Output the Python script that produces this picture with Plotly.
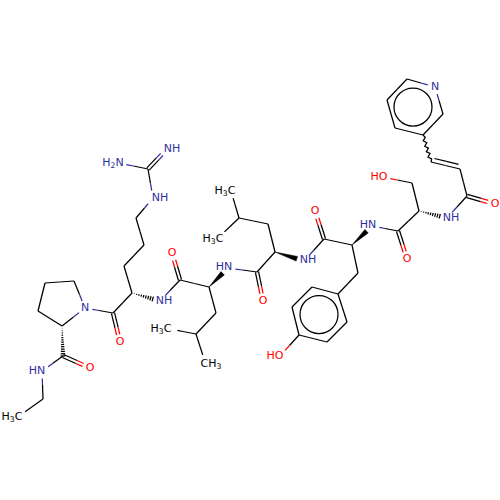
import math
import plotly.graph_objects as go

## Atoms, in picture pixels (y downwards)
atom_ids = ['me1', 'ch2e', 'n1', 'c1', 'o1', 'pa', 'pb', 'pg', 'pd', 'pn', 'c2', 'o2', 'ra', 'rb', 'rg', 'rd', 'n2', 'cz', 'n3', 'n4',
            'n5', 'c3', 'o3', 'la', 'lb', 'lg', 'me2', 'me3', 'n6', 'c4', 'o4', 'ma', 'mb', 'mg', 'me4', 'me5', 'n7', 'c5', 'o5',
            'ya', 'yb', 'y1', 'y2', 'y3', 'y4', 'y5', 'y6', 'oh', 'n8', 'c6', 'o6', 'sa', 'sb', 'so', 'n9', 'c7', 'o7', 'v1', 'v2',
            'q1', 'q2', 'qn', 'q4', 'q5', 'q6']
atom_x = [19, 43, 42, 63, 90, 62, 38, 45, 74, 85, 113, 120, 132, 124, 144, 136, 153, 148, 167, 119,
          160, 180, 172, 209, 216, 196, 170, 205, 228, 257, 263, 275, 268, 239, 231, 219, 304, 324, 315,
          352, 358, 338, 312, 292, 299, 327, 347, 280, 372, 398, 407, 419, 412, 383, 447, 467, 495, 460, 431,
          423, 443, 435, 407, 387, 395]
atom_y = [416, 399, 371, 356, 368, 326, 311, 283, 281, 308, 313, 342, 293, 266, 245, 218, 198, 169, 149, 163,
          301, 280, 253, 287, 313, 334, 329, 362, 268, 272, 301, 252, 224, 218, 191, 237, 261, 239, 211,
          245, 273, 294, 287, 307, 335, 342, 322, 356, 226, 231, 259, 211, 183, 177, 218, 196, 204, 169, 162,
          135, 114, 87, 79, 100, 128]

## Bonds: s single, d double, a alkene, w wedge, h hash, z wavy
bond_from = ['me1', 'ch2e', 'n1', 'c1', 'pa', 'pa', 'pb', 'pg', 'pd', 'pn', 'pn', 'c2', 'c2', 'ra', 'ra', 'rb', 'rg', 'rd', 'n2', 'cz', 'cz',
             'n5', 'c3', 'c3', 'la', 'la', 'lb', 'lg', 'lg',
             'n6', 'c4', 'c4', 'ma', 'ma', 'mb', 'mg', 'mg',
             'n7', 'c5', 'c5', 'ya', 'ya', 'yb', 'y1', 'y2', 'y3', 'y4', 'y5', 'y6', 'y4',
             'n8', 'c6', 'c6', 'sa', 'sa', 'sb', 'n9', 'c7', 'c7', 'v1', 'v2', 'q1', 'q2', 'qn', 'q4', 'q5', 'q6']
bond_to = ['ch2e', 'n1', 'c1', 'o1', 'c1', 'pb', 'pg', 'pd', 'pn', 'pa', 'c2', 'o2', 'ra', 'n5', 'rb', 'rg', 'rd', 'n2', 'cz', 'n3', 'n4',
           'c3', 'o3', 'la', 'n6', 'lb', 'lg', 'me2', 'me3',
           'c4', 'o4', 'ma', 'n7', 'mb', 'mg', 'me4', 'me5',
           'c5', 'o5', 'ya', 'n8', 'yb', 'y1', 'y2', 'y3', 'y4', 'y5', 'y6', 'y1', 'oh',
           'c6', 'o6', 'sa', 'n9', 'sb', 'so', 'c7', 'o7', 'v1', 'v2', 'q1', 'q2', 'qn', 'q4', 'q5', 'q6', 'q1']
bond_kind = ['s', 's', 's', 'd', 'h', 's', 's', 's', 's', 's', 's', 'd', 's', 'h', 's', 's', 's', 's', 's', 'd', 's',
             's', 'd', 's', 'w', 's', 's', 's', 's',
             's', 'd', 's', 'w', 's', 's', 's', 's',
             's', 'd', 's', 'w', 's', 's', 's', 's', 's', 's', 's', 's', 's',
             's', 'd', 's', 'h', 's', 's', 's', 'd', 's', 'a', 'z', 's', 's', 's', 's', 's', 's']

## Text labels
label_text = ['H<sub>3</sub>C', 'HN', 'O', 'N', 'O', 'NH', 'NH', 'H<sub>2</sub>N', 'NH', 'O', 'H<sub>3</sub>C', 'CH<sub>3</sub>', 'HN', 'O',
              'H<sub>3</sub>C', 'H<sub>3</sub>C', 'NH', 'O', 'HO', 'HN', 'O', 'HO', 'NH', 'O', 'N']
label_atom = ['me1', 'n1', 'o1', 'pn', 'o2', 'n5', 'n2', 'n4', 'n3', 'o3', 'me2', 'me3', 'n6', 'o4',
              'me4', 'me5', 'n7', 'o5', 'oh', 'n8', 'o6', 'so', 'n9', 'o7', 'qn']
label_x = [12, 37, 90, 85, 120, 164, 160, 113, 172, 172, 161, 211, 224, 263,
           225, 213, 308, 315, 275, 368, 407, 379, 451, 495, 435]
label_y = [417, 371, 368, 308, 342, 301, 198, 163, 149, 253, 329, 364, 267, 301,
           191, 239, 260, 211, 356, 225, 259, 177, 218, 204, 87]

## Aromatic rings, drawn with an inner circle
ring_x = [319, 413]
ring_y = [314.5, 107]
ring_r = [19, 19]

BLACK = '#000000'
BLUE = '#2f2f9c'
RED = '#ff0000'
FONT = 'DejaVu Sans'

pos = {a: (x, y) for a, x, y in zip(atom_ids, atom_x, atom_y)}
labelled = dict(zip(label_atom, label_text))


def atom_colour(a):
    t = labelled.get(a, '')
    if 'N' in t:
        return BLUE
    if 'O' in t:
        return RED
    return BLACK


def trimmed(a, b):
    ## pull the line ends back from any text label
    ax, ay = pos[a]
    bx, by = pos[b]
    d = math.hypot(bx - ax, by - ay)
    ta = 7.5 / d if a in labelled else 0
    tb = 7.5 / d if b in labelled else 0
    return ax + (bx - ax) * ta, ay + (by - ay) * ta, ax + (bx - ax) * (1 - tb), ay + (by - ay) * (1 - tb)


segs = {BLACK: ([], []), BLUE: ([], []), RED: ([], [])}


def add_half_bond(a, b, x0, y0, x1, y1, ox=0, oy=0):
    ## the half nearest each atom gets the colour of that atom
    mx = (pos[a][0] + pos[b][0]) / 2 + ox
    my = (pos[a][1] + pos[b][1]) / 2 + oy
    sx, sy = segs[atom_colour(a)]
    sx += [x0, mx, None]
    sy += [y0, my, None]
    sx, sy = segs[atom_colour(b)]
    sx += [mx, x1, None]
    sy += [my, y1, None]


wedge_x, wedge_y = [], []
for a, b, kind in zip(bond_from, bond_to, bond_kind):
    x0, y0, x1, y1 = trimmed(a, b)
    d = math.hypot(x1 - x0, y1 - y0)
    nx, ny = -(y1 - y0) / d, (x1 - x0) / d
    if kind == 's':
        add_half_bond(a, b, x0, y0, x1, y1)
    elif kind == 'd':
        for side in (-1.6, 1.6):
            add_half_bond(a, b, x0 + nx * side, y0 + ny * side, x1 + nx * side, y1 + ny * side, nx * side, ny * side)
    elif kind == 'a':
        add_half_bond(a, b, x0, y0, x1, y1)
        ux, uy = (x1 - x0) / d * 2.5, (y1 - y0) / d * 2.5
        add_half_bond(a, b, x0 + nx * 4.2 + ux, y0 + ny * 4.2 + uy, x1 + nx * 4.2 - ux, y1 + ny * 4.2 - uy, nx * 4.2, ny * 4.2)
    elif kind == 'z':
        n = 10
        for i in range(n + 1):
            off = 0 if i in (0, n) else (1.5 if i % 2 else -1.5)
            segs[BLACK][0].append(x0 + (x1 - x0) * i / n + nx * off)
            segs[BLACK][1].append(y0 + (y1 - y0) * i / n + ny * off)
        segs[BLACK][0].append(None)
        segs[BLACK][1].append(None)
    elif kind == 'w':
        wedge_x += [x0, x1 + nx * 2.4, x1 - nx * 2.4, x0, None]
        wedge_y += [y0, y1 + ny * 2.4, y1 - ny * 2.4, y0, None]
    elif kind == 'h':
        steps = int(d / 2.2)
        for i in range(1, steps + 1):
            t = i / steps
            cx, cy = x0 + (x1 - x0) * t, y0 + (y1 - y0) * t
            segs[BLACK][0].extend([cx + nx * 2.4 * t, cx - nx * 2.4 * t, None])
            segs[BLACK][1].extend([cy + ny * 2.4 * t, cy - ny * 2.4 * t, None])

fig = go.Figure()
for colour, (sx, sy) in segs.items():
    fig.add_trace(go.Scatter(x=sx, y=sy, mode='lines', line=dict(color=colour, width=1.25), hoverinfo='skip'))
fig.add_trace(go.Scatter(x=wedge_x, y=wedge_y, mode='lines', fill='toself', fillcolor=BLACK,
                         line=dict(color=BLACK, width=0.5), hoverinfo='skip'))
fig.add_trace(go.Scatter(x=label_x, y=label_y, mode='text', text=label_text, textposition='middle center',
                         textfont=dict(family=FONT, size=11, color=[atom_colour(a) for a in label_atom]),
                         hoverinfo='skip'))
for x, y, r in zip(ring_x, ring_y, ring_r):
    fig.add_shape(type='circle', xref='x', yref='y', x0=x - r, x1=x + r, y0=y - r, y1=y + r,
                  line=dict(color=BLACK, width=1.25))

fig.update_layout(width=500, height=500, margin=dict(l=0, r=0, t=0, b=0), showlegend=False,
                  paper_bgcolor='white', plot_bgcolor='white')
fig.update_xaxes(range=[0, 500], visible=False)
fig.update_yaxes(range=[500, 0], visible=False)
fig.write_html("out.html", config=dict(displayModeBar=False), post_script="document.body.style.margin='0';")
